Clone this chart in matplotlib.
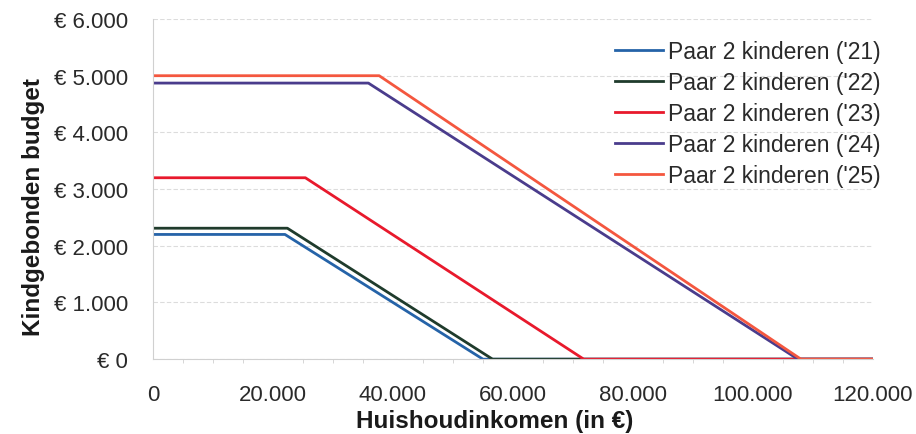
import matplotlib.pyplot as plt
from matplotlib.ticker import FuncFormatter, MultipleLocator

plt.rcParams['font.family'] = ['Liberation Sans', 'DejaVu Sans']

# piecewise lines: (inkomen, budget) knikpunten per jaar
labels = ["Paar 2 kinderen ('21)", "Paar 2 kinderen ('22)", "Paar 2 kinderen ('23)",
          "Paar 2 kinderen ('24)", "Paar 2 kinderen ('25)"]
colors = ['#2563a8', '#1f3b2c', '#e8192c', '#4a3c8c', '#f4573f']

inkomen_21 = [0, 22000, 55000, 120000]
budget_21 = [2200, 2200, 0, 0]
inkomen_22 = [0, 22400, 56600, 120000]
budget_22 = [2310, 2310, 0, 0]
inkomen_23 = [0, 25400, 71800, 120000]
budget_23 = [3200, 3200, 0, 0]
inkomen_24 = [0, 35900, 107500, 120000]
budget_24 = [4870, 4870, 0, 0]
inkomen_25 = [0, 37700, 108000, 120000]
budget_25 = [5000, 5000, 0, 0]

xs = [inkomen_21, inkomen_22, inkomen_23, inkomen_24, inkomen_25]
ys = [budget_21, budget_22, budget_23, budget_24, budget_25]

fig = plt.figure(figsize=(9.16, 4.35), dpi=100)
ax = fig.add_axes([0.167, 0.172, 0.786, 0.782])

for x, y, c, lab in zip(xs, ys, colors, labels):
    ax.plot(x, y, color=c, lw=2.0, label=lab)

ax.set_xlim(0, 120000)
ax.set_ylim(0, 6000)
ax.set_xticks(range(0, 120001, 20000))
ax.set_yticks(range(0, 6001, 1000))
ax.xaxis.set_minor_locator(MultipleLocator(5000))

def dots(v):
    return f"{int(v):,}".replace(',', '.')

ax.xaxis.set_major_formatter(FuncFormatter(lambda v, p: dots(v)))
ax.yaxis.set_major_formatter(FuncFormatter(lambda v, p: "€ " + dots(v)))

ax.grid(axis='y', color='#dcdcdc', lw=0.8, ls=(0, (4, 2)))
ax.set_axisbelow(True)
for s in ['top', 'right']:
    ax.spines[s].set_visible(False)
ax.spines['left'].set_color('#d0d0d0')
ax.spines['bottom'].set_color('#d0d0d0')
ax.tick_params(axis='both', which='major', length=0, labelsize=16, colors='#2a2a2a')
ax.tick_params(axis='y', pad=18)
ax.tick_params(axis='x', pad=18)
ax.tick_params(axis='x', which='minor', length=3, color='#d0d0d0')

ax.set_xlabel('Huishoudinkomen (in €)', fontsize=17.5, fontweight='bold', color='#1a1a1a')
ax.set_ylabel('Kindgebonden budget', fontsize=17.5, fontweight='bold', color='#1a1a1a')
ax.xaxis.set_label_coords(0.474, -0.145)
ax.yaxis.set_label_coords(-0.150, 0.45)

ax.legend(loc='upper right', bbox_to_anchor=(1.04, 1.0), frameon=False, fontsize=16.5,
          handlelength=2.1, handletextpad=0.25, labelspacing=0.35, labelcolor='#2a2a2a')

fig.savefig('out.png', dpi=100)
